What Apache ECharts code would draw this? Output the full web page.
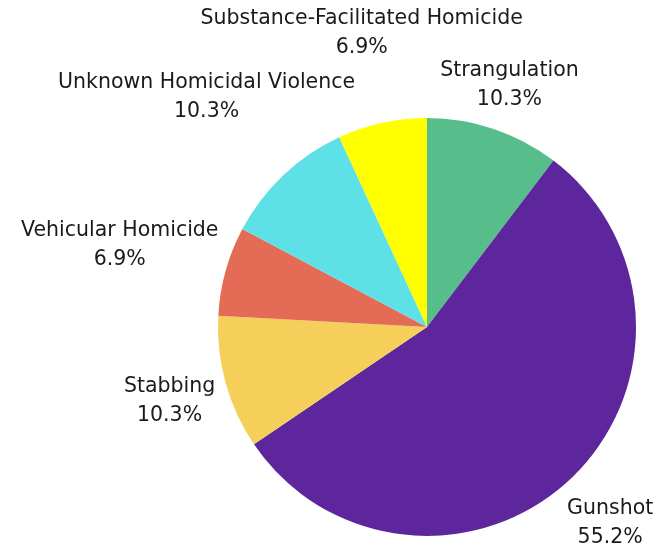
<!DOCTYPE html>
<html>
<head>
<meta charset="utf-8">
<script src="https://cdn.jsdelivr.net/npm/echarts@6/dist/echarts.min.js"></script>
<style>
  html, body { margin: 0; padding: 0; background: #fff; }
  #chart { width: 670px; height: 547px; }
</style>
</head>
<body>
<div id="chart"></div>
<script>
const causes = [
  'Strangulation',
  'Gunshot',
  'Stabbing',
  'Vehicular Homicide',
  'Unknown Homicidal Violence',
  'Substance-Facilitated Homicide'
]
const caseCounts = [3, 16, 3, 2, 3, 2]
const sliceColors = ['#57BD8A', '#5E269C', '#F5CF59', '#E46B55', '#5DE1E6', '#FFFF00']

const CX = 427
const CY = 327
const R = 209
// labels sit just outside the pie: nearest point of each text box touches this circle
const LABEL_RING = 216
const LABEL_DY = 3
// text boxes carry some empty leading, trimmed off when checking for overlap
const LEADING_TRIM = 3

const total = caseCounts.reduce((a, b) => a + b, 0)
const midAngles = []
let acc = 0
caseCounts.forEach(v => {
  midAngles.push((acc + v / 2) / total * Math.PI * 2)
  acc += v
})

let placed = []

function boxDist(cx, cy, hw, hh) {
  const dx = Math.max(Math.abs(cx) - hw, 0)
  const dy = Math.max(Math.abs(cy) - hh, 0)
  return Math.sqrt(dx * dx + dy * dy)
}

function overlaps(b) {
  return placed.some(p =>
    b.x1 < p.x2 && b.x2 > p.x1 && b.y1 < p.y2 && b.y2 > p.y1)
}

function placeLabel(params) {
  if (params.dataIndex === 0) placed = []
  const ang = midAngles[params.dataIndex]
  const ux = Math.sin(ang)
  const uy = -Math.cos(ang)
  const hw = params.labelRect.width / 2
  const hh = params.labelRect.height / 2
  let lo = 0, hi = 1000
  for (let i = 0; i < 40; i++) {
    const mid = (lo + hi) / 2
    if (boxDist(mid * ux, mid * uy, hw, hh) < LABEL_RING) lo = mid
    else hi = mid
  }
  let t = hi
  const ch = hh - LEADING_TRIM
  let box
  for (let k = 0; k < 300; k++) {
    const x = CX + t * ux, y = CY + t * uy + LABEL_DY
    box = { x: x, y: y, x1: x - hw, x2: x + hw, y1: y - ch, y2: y + ch }
    if (!overlaps(box)) break
    t += 1
  }
  placed.push(box)
  return { x: box.x, y: box.y, align: 'center', verticalAlign: 'middle' }
}

const chart = echarts.init(document.getElementById('chart'))
const option = {
  animation: false,
  textStyle: { fontFamily: 'DejaVu Sans' },
  series: [{
    type: 'pie',
    center: [CX, CY],
    radius: R,
    startAngle: 90,
    clockwise: true,
    avoidLabelOverlap: false,
    itemStyle: { borderWidth: 0 },
    label: {
      show: true,
      position: 'outside',
      formatter: p => p.name + '\n' + (p.value / total * 100).toFixed(1) + '%',
      fontFamily: 'DejaVu Sans',
      fontSize: 20.5,
      lineHeight: 29,
      color: '#1a1a1a',
      align: 'center'
    },
    labelLine: { show: false },
    labelLayout: placeLabel,
    data: causes.map((name, i) => ({
      name: name,
      value: caseCounts[i],
      itemStyle: { color: sliceColors[i] }
    }))
  }]
}
chart.setOption(option)
</script>
</body>
</html>
